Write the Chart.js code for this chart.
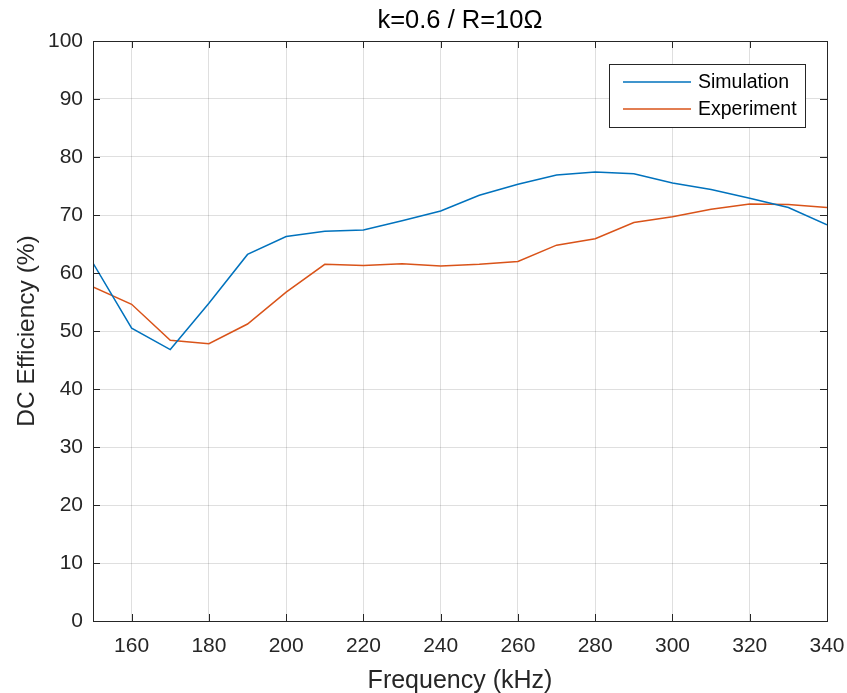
<!DOCTYPE html>
<html>
<head>
<meta charset="utf-8">
<script src="https://cdn.jsdelivr.net/npm/chart.js@4/dist/chart.umd.min.js"></script>
<style>
  html, body { margin: 0; padding: 0; background: #fff; }
  #wrap { width: 847px; height: 693px; }
</style>
</head>
<body>
<div id="wrap"><canvas id="effChart" width="847" height="693"></canvas></div>
<script>
// frequencies in kHz
const freqs = [150, 160, 170, 180, 190, 200, 210, 220, 230, 240, 250, 260, 270, 280, 290, 300, 310, 320, 330, 340];
const simulation = [61.7, 50.5, 46.8, 54.8, 63.2, 66.3, 67.2, 67.4, 69.0, 70.7, 73.4, 75.3, 76.9, 77.4, 77.1, 75.5, 74.4, 72.9, 71.3, 68.3];
const experiment = [57.6, 54.6, 48.4, 47.8, 51.2, 56.7, 61.5, 61.3, 61.6, 61.2, 61.5, 62.0, 64.8, 65.9, 68.7, 69.7, 71.0, 71.9, 71.8, 71.3];
const xTicks = [160, 180, 200, 220, 240, 260, 280, 300, 320, 340];
const yTicks = [0, 10, 20, 30, 40, 50, 60, 70, 80, 90, 100];

const axisColor = '#262626';
const fontFamily = '"Liberation Sans", Arial, Helvetica, sans-serif';

// box round the plot, ticks pointing inward, legend in the upper right
const matlabBox = {
  id: 'matlabBox',
  afterDatasetsDraw(chart) {
    const { ctx, chartArea: a, scales } = chart;
    const tk = 7;
    ctx.save();
    ctx.strokeStyle = axisColor;
    ctx.lineWidth = 1;
    ctx.beginPath();
    xTicks.forEach(v => {
      const x = Math.round(scales.x.getPixelForValue(v)) + 0.5;
      ctx.moveTo(x, a.bottom); ctx.lineTo(x, a.bottom - tk);
      ctx.moveTo(x, a.top); ctx.lineTo(x, a.top + tk);
    });
    yTicks.forEach(v => {
      const y = Math.round(scales.y.getPixelForValue(v)) + 0.5;
      ctx.moveTo(a.left, y); ctx.lineTo(a.left + tk, y);
      ctx.moveTo(a.right, y); ctx.lineTo(a.right - tk, y);
    });
    ctx.stroke();
    ctx.strokeRect(Math.round(a.left) + 0.5, Math.round(a.top) + 0.5,
      Math.round(a.right - a.left), Math.round(a.bottom - a.top));

    // legend
    const lx = 609, ly = 64, lw = 196, lh = 63;
    ctx.fillStyle = '#fff';
    ctx.fillRect(lx, ly, lw, lh);
    ctx.strokeRect(lx + 0.5, ly + 0.5, lw, lh);
    ctx.font = '19.5px ' + fontFamily;
    ctx.textBaseline = 'middle';
    chart.data.datasets.forEach((ds, i) => {
      const y = ly + 18 + i * 27;
      ctx.strokeStyle = ds.borderColor;
      ctx.lineWidth = 1.5;
      ctx.beginPath();
      ctx.moveTo(lx + 14, y); ctx.lineTo(lx + 82, y);
      ctx.stroke();
      ctx.fillStyle = '#000';
      ctx.fillText(ds.label, lx + 89, y + 1);
    });
    ctx.restore();
  }
};

const ctx = document.getElementById('effChart').getContext('2d');
const effChart = new Chart(ctx, {
  type: 'line',
  data: {
    datasets: [
      {
        label: 'Simulation',
        data: freqs.map((f, i) => ({ x: f, y: simulation[i] })),
        borderColor: '#0072BD',
        borderWidth: 1.5,
        pointRadius: 0,
        tension: 0,
        fill: false
      },
      {
        label: 'Experiment',
        data: freqs.map((f, i) => ({ x: f, y: experiment[i] })),
        borderColor: '#D95319',
        borderWidth: 1.5,
        pointRadius: 0,
        tension: 0,
        fill: false
      }
    ]
  },
  options: {
    responsive: false,
    animation: false,
    layout: { padding: { top: 41, right: 20, left: 0, bottom: 0 } },
    plugins: {
      legend: { display: false },
      tooltip: { enabled: false },
      title: { display: false }
    },
    scales: {
      x: {
        type: 'linear',
        min: 150,
        max: 340,
        afterBuildTicks: s => { s.ticks = xTicks.map(v => ({ value: v })); },
        afterFit: s => { s.height = 72; s.paddingLeft = 0; s.paddingRight = 0; },
        grid: { color: 'rgba(38,38,38,0.15)', drawTicks: false },
        border: { display: false },
        ticks: { color: axisColor, padding: 13, maxRotation: 0, font: { family: fontFamily, size: 21 } },
        title: {
          display: true,
          text: 'Frequency (kHz)',
          color: axisColor,
          padding: { top: 0, bottom: -3 },
          font: { family: fontFamily, size: 25 }
        }
      },
      y: {
        min: 0,
        max: 100,
        afterBuildTicks: s => { s.ticks = yTicks.map(v => ({ value: v })); },
        afterFit: s => { s.width = 93; s.paddingTop = 0; s.paddingBottom = 0; },
        grid: { color: 'rgba(38,38,38,0.15)', drawTicks: false },
        border: { display: false },
        ticks: { color: axisColor, padding: 10, font: { family: fontFamily, size: 21 } },
        title: {
          display: true,
          text: 'DC Efficiency (%)',
          color: axisColor,
          padding: { top: 13, bottom: 0 },
          font: { family: fontFamily, size: 24.5 }
        }
      }
    }
  },
  plugins: [matlabBox, {
    id: 'topTitle',
    afterDraw(chart) {
      const { ctx, chartArea: a } = chart;
      ctx.save();
      ctx.fillStyle = '#000';
      ctx.font = '25.5px ' + fontFamily;
      ctx.textAlign = 'center';
      ctx.textBaseline = 'middle';
      ctx.fillText('k=0.6 / R=10\u03A9', (a.left + a.right) / 2, 21);
      ctx.restore();
    }
  }]
});
</script>
</body>
</html>
